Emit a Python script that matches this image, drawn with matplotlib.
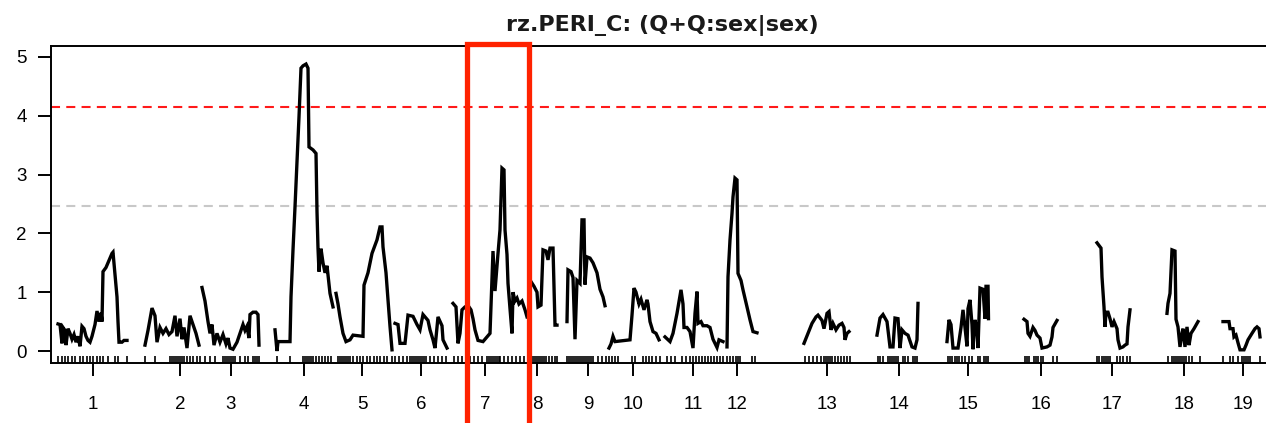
import matplotlib
matplotlib.use("Agg")
import matplotlib.pyplot as plt
from matplotlib.patches import Rectangle

plt.rcParams['font.family'] = ['Liberation Sans', 'DejaVu Sans']
plt.rcParams['lines.scale_dashes'] = False

title = "rz.PERI_C: (Q+Q:sex|sex)"
chrom_labels = [str(i) for i in range(1, 20)]
label_pos = [93, 180, 231, 304, 362, 421, 485, 537, 588, 633, 693, 737, 827, 899, 968, 1041, 1112, 1184, 1243]

thr_red = 4.15
thr_gray = 2.47

chr1 = [(58,0.46),(60,0.45),(62,0.13),(63,0.40),(65,0.35),(66,0.10),(68,0.38),(70,0.30),(72,0.20),(74,0.28),
        (76,0.15),(78,0.25),(80,0.08),(82,0.42),(84,0.38),(86,0.25),(88,0.18),(90,0.15),(92,0.25),(95,0.45),
        (97,0.68),(99,0.50),(101,0.65),(102,0.50),(103,1.35),(106,1.42),(108,1.50),(110,1.58),(112,1.66),(113,1.68),
        (115,1.30),(117,0.92),(118,0.50),(119,0.15),(120,0.15),(122,0.15),(124,0.18),(127,0.18)]
chr2 = [(145,0.10),(148,0.35),(152,0.73),(155,0.60),(157,0.15),(160,0.40),(163,0.30),(166,0.38),(169,0.28),(172,0.33),
        (175,0.60),(177,0.25),(180,0.55),(182,0.20),(184,0.40),(187,0.05),(190,0.60),(193,0.45),(196,0.30),(199,0.10)]
chr3 = [(202,1.08),(205,0.85),(208,0.50),(210,0.30),(212,0.45),(214,0.10),(217,0.30),(220,0.15),(223,0.28),(226,0.12),
        (228,0.22),(230,0.05),(233,0.03),(237,0.15),(240,0.30),(243,0.45),(245,0.35),(247,0.42),(249,0.22),(250,0.62),
        (253,0.66),(256,0.66),(258,0.62),(259,0.10)]
chr4 = [(275,0.36),(277,0.00),(278,0.16),(290,0.16),(291,0.92),(293,1.72),(295,2.45),(297,3.22),(299,3.98),(301,4.81),
        (303,4.85),(306,4.88),(308,4.81),(309,3.47),(313,3.42),(316,3.36),(317,2.37),(318,1.75),(319,1.35),(321,1.74),
        (323,1.50),(325,1.33),(327,1.45),(330,0.98),(333,0.75)]
chr5 = [(336,0.98),(338,0.80),(340,0.58),(343,0.30),(346,0.16),(350,0.19),(353,0.27),(363,0.25),(364,1.12),(368,1.33),
        (372,1.66),(377,1.89),(380,2.11),(382,2.11),(383,1.77),(386,1.33),(388,0.87),(390,0.42),(392,0.02)]
chr6 = [(395,0.47),(398,0.45),(400,0.13),(405,0.13),(408,0.61),(413,0.59),(417,0.45),(420,0.36),(423,0.62),(428,0.52),
        (430,0.36),(433,0.19),(435,0.05),(438,0.58),(442,0.43),(443,0.19),(447,0.05)]
chr7 = [(453,0.81),(456,0.75),(458,0.13),(460,0.30),(462,0.70),(465,0.75),(469,0.75),(471,0.70),(473,0.55),(475,0.36),
        (478,0.18),(483,0.16),(490,0.30),(493,1.70),(495,1.02),(498,1.66),(500,2.06),(502,3.11),(504,3.08),(505,2.06),
        (507,1.64),(508,1.15),(510,0.72),(512,0.30),(513,1.00),(515,0.85),(517,0.90),(519,0.80),(522,0.85),(525,0.70),
        (527,0.58)]
chr8 = [(531,1.18),(534,1.10),(537,1.00),(538,0.75),(541,0.78),(543,1.72),(546,1.70),(548,1.55),(550,1.75),(553,1.75),
        (555,0.44),(557,0.44)]
chr9 = [(567,0.50),(568,1.38),(571,1.35),(573,1.25),(575,0.20),(577,1.20),(580,1.15),(582,2.23),(584,2.23),(585,1.13),
        (587,1.60),(590,1.58),(593,1.50),(597,1.33),(600,1.05),(603,0.92),(605,0.77)]
chr10 = [(609,0.05),(611,0.12),(613,0.25),(615,0.16),(620,0.17),(625,0.18),(630,0.19),(632,0.61),(634,1.07),(636,1.00),
         (639,0.80),(641,0.88),(644,0.70),(647,0.87),(648,0.80),(650,0.50),(653,0.33),(656,0.30),(659,0.19)]
chr11 = [(665,0.24),(670,0.16),(673,0.30),(677,0.64),(681,1.04),(683,0.80),(684,0.40),(687,0.40),(690,0.33),(693,0.05),
         (695,0.64),(697,1.01),(698,0.47),(701,0.50),(703,0.43),(707,0.43),(710,0.40),(713,0.20),(717,0.06),(719,0.19),
         (723,0.16)]
chr12 = [(727,0.07),(728,1.26),(730,1.89),(732,2.34),(733,2.62),(735,2.94),(737,2.91),(738,1.32),(741,1.20),(743,1.04),
         (747,0.75),(750,0.53),(753,0.33),(757,0.31)]
chr13 = [(804,0.13),(808,0.30),(812,0.47),(816,0.58),(818,0.61),(822,0.52),(824,0.38),(827,0.64),(829,0.67),(831,0.36),
         (833,0.47),(836,0.36),(839,0.44),(842,0.47),(844,0.40),(845,0.19),(847,0.30),(849,0.33)]
chr14 = [(877,0.27),(880,0.56),(883,0.62),(887,0.50),(890,0.07),(893,0.07),(895,0.56),(898,0.55),(900,0.05),(902,0.36),
         (905,0.30),(908,0.27),(912,0.07),(915,0.05),(917,0.19),(918,0.81)]
chr15 = [(947,0.16),(949,0.53),(951,0.45),(953,0.05),(958,0.05),(961,0.40),(963,0.70),(965,0.40),(967,0.08),(968,0.72),
         (970,0.87),(972,0.45),(973,0.03),(975,0.53),(977,0.35),(978,0.05),(980,1.07),(983,1.05),(985,0.55),(986,1.10),
         (988,1.10),(988.5,0.55)]
chr16 = [(1024,0.54),(1027,0.50),(1028,0.30),(1030,0.25),(1033,0.40),(1035,0.35),(1037,0.27),(1040,0.22),(1042,0.05),
         (1047,0.07),(1050,0.10),(1052,0.24),(1053,0.40),(1057,0.52)]
chr17 = [(1097,1.84),(1101,1.75),(1102,1.26),(1104,0.75),(1105,0.41),(1106,0.66),(1108,0.66),(1110,0.55),(1112,0.41),
         (1114,0.50),(1117,0.38),(1118,0.19),(1120,0.05),(1123,0.07),(1125,0.10),(1127,0.12),(1128,0.41),(1130,0.70)]
chr18 = [(1167,0.64),(1168,0.81),(1170,0.98),(1172,1.72),(1175,1.70),(1176,0.54),(1178,0.41),(1180,0.07),(1182,0.30),
         (1183,0.38),(1185,0.07),(1187,0.41),(1189,0.10),(1191,0.30),(1194,0.38),(1198,0.50)]
chr19 = [(1223,0.50),(1229,0.50),(1230,0.38),(1233,0.38),(1234,0.24),(1236,0.27),(1238,0.14),(1240,0.02),(1244,0.02),
         (1246,0.10),(1248,0.19),(1252,0.30),(1255,0.38),(1257,0.41),(1259,0.38),(1260,0.24)]

curves = [chr1, chr2, chr3, chr4, chr5, chr6, chr7, chr8, chr9, chr10,
          chr11, chr12, chr13, chr14, chr15, chr16, chr17, chr18, chr19]

markers = [
    [58, 62, 65, 68, 72, 75, 80, 83, 87, 90, 93, 97, 100, 103, 108, 115, 118, 127],
    [145, 155, 170, 172, 174, 176, 178, 180, 182, 184, 187, 190, 193, 197],
    [200, 205, 210, 215, 223, 225, 227, 229, 231, 233, 235, 240, 245, 248, 253, 255, 257, 259],
    [277, 290, 303, 305, 307, 309, 311, 313, 316, 319, 322, 325, 328, 331],
    [338, 340, 342, 344, 346, 348, 350, 353, 357, 360, 363, 367, 370, 374, 377, 380, 384, 387, 392],
    [395, 399, 403, 407, 410, 412, 414, 416, 418, 420, 422, 424, 426, 430, 434, 438, 442, 446],
    [454, 458, 462, 466, 470, 474, 478, 482, 487, 489, 491, 493, 495, 497, 499, 500, 504, 508, 512, 516, 520, 524, 528],
    [530, 532, 534, 536, 538, 540, 542, 544, 546, 549, 552, 555, 557],
    [567, 569, 571, 573, 575, 577, 579, 581, 583, 585, 587, 589, 591, 593, 598, 602, 606],
    [609, 612, 615, 618, 632, 635, 643, 646, 649, 652, 656, 660],
    [667, 671, 675, 682, 686, 690, 693, 696, 699, 702, 705, 708, 711, 714, 717, 720, 723],
    [727, 730, 733, 736, 738, 740, 752, 755],
    [805, 809, 813, 817, 821, 824, 826, 828, 830, 832, 835, 838, 841, 844, 847, 850],
    [878, 880, 883, 888, 890, 892, 894, 896, 898, 903, 905, 908, 913, 915, 917],
    [948, 950, 952, 955, 957, 959, 962, 965, 969, 972, 978, 980, 984, 986, 988],
    [1025, 1027, 1029, 1034, 1036, 1038, 1041, 1043, 1053, 1057],
    [1097, 1099, 1102, 1104, 1106, 1108, 1110, 1117, 1120, 1123, 1127, 1130],
    [1168, 1172, 1174, 1176, 1178, 1180, 1182, 1184, 1186, 1189, 1192, 1200],
    [1223, 1230, 1233, 1238, 1242, 1244, 1246, 1248, 1250, 1260],
]

W, H = 1266, 423
fig = plt.figure(figsize=(W / 100, H / 100), dpi=100)
x0, x1 = 51, 1275
ax = fig.add_axes([x0 / W, (H - 363) / H, (x1 - x0) / W, (363 - 46) / H])
ax.set_xlim(x0, x1)
ax.set_ylim(-0.204, 5.187)

for c in curves:
    xs = [p[0] for p in c]
    ys = [p[1] for p in c]
    ax.plot(xs, ys, color='black', lw=2.4, solid_joinstyle='miter', zorder=3)

for m in markers:
    ax.vlines(m, -0.204, -0.085, color='black', lw=1.2, zorder=2)

ax.axhline(thr_red, color='#ff1a1a', lw=1.5, dashes=(6.5, 4.5), zorder=1)
ax.axhline(thr_gray, color='#c8c8c8', lw=1.5, dashes=(6.5, 4.5), zorder=1)

for s in ['left', 'bottom', 'top', 'right']:
    ax.spines[s].set_linewidth(1.4)

ax.set_yticks([0, 1, 2, 3, 4, 5])
ax.set_yticklabels(['0', '1', '2', '3', '4', '5'])
ax.set_xticks(label_pos)
ax.set_xticklabels(chrom_labels)
ax.tick_params(axis='y', length=9.5, width=1.4, pad=8, labelsize=13.5, colors='black')
ax.tick_params(axis='x', length=9, width=1.4, pad=15, labelsize=13.5, colors='black')

fig.text(662 / W, (H - 31) / H, title, ha='center', va='baseline',
         fontsize=16, fontweight='bold', color='#1a1a1a', family='DejaVu Sans')

# red highlight box
box = Rectangle((467 / W, -0.05), (529 - 467) / W, (H - 44) / H + 0.05,
                transform=fig.transFigure, fill=False, edgecolor='#ff2200',
                lw=3.8, zorder=10, clip_on=False)
fig.patches.append(box)

fig.savefig('out.png', dpi=100)
